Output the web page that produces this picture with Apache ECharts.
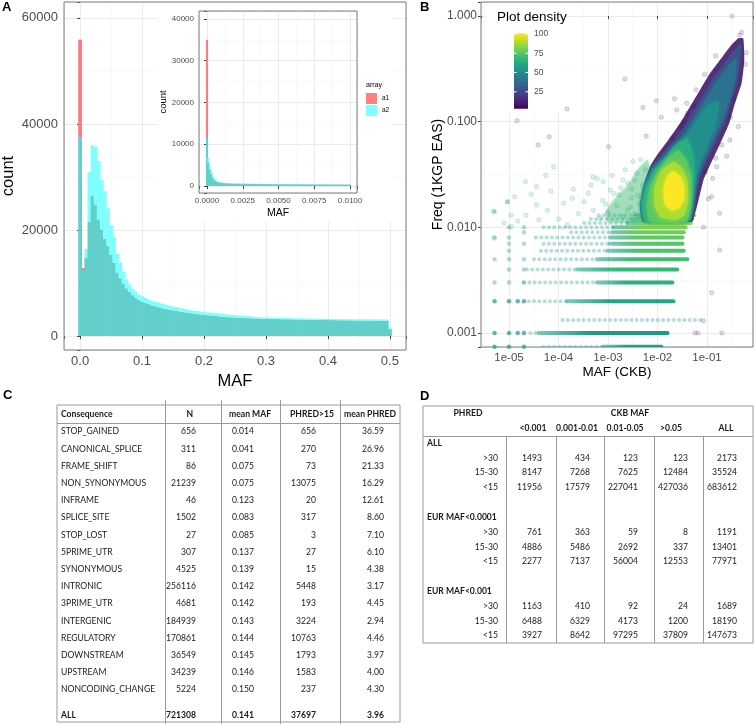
<!DOCTYPE html>
<html>
<head>
<meta charset="utf-8">
<script src="https://cdn.jsdelivr.net/npm/echarts@6/dist/echarts.min.js"></script>
<style>
html,body{margin:0;padding:0;background:#fff;}
#chart{width:756px;height:724px;}
</style>
</head>
<body>
<div id="chart"></div>
<script>
// ================= Panel A : MAF histograms =================
const mainBinWidth = 0.005;            // bins centred on 0, 0.005, ... 0.5
const mainA1 = [
 55900,12800,14700,21500,26500,24800,22000,20100,18300,17000,
 15300,13800,12000,10900,9900,9000,8300,7700,7200,6800,
 6500,6250,6050,5800,5650,5500,5330,5200,5080,4950,
 4850,4760,4650,4560,4450,4380,4290,4200,4130,4060,
 3960,3920,3860,3810,3760,3700,3660,3610,3560,3520,
 3490,3450,3430,3400,3370,3350,3330,3300,3290,3260,
 3240,3230,3200,3190,3180,3170,3160,3150,3140,3130,
 3120,3100,3090,3080,3070,3060,3050,3040,3030,3020,
 3010,3000,2990,2980,2970,2960,2950,2950,2940,2930,
 2920,2910,2900,2900,2890,2880,2870,2860,2850,2850,
 1300];
const mainA2 = [
 37400,12450,16400,30900,36000,35700,33000,29400,27300,24100,
 20900,18700,15500,13800,12100,10700,9700,8900,8300,7800,
 7500,7200,6950,6700,6500,6350,6150,6000,5850,5700,
 5550,5450,5350,5200,5100,4950,4850,4750,4700,4600,
 4550,4450,4400,4350,4300,4250,4200,4100,4050,4000,
 3950,3900,3850,3800,3750,3700,3650,3600,3550,3520,
 3500,3480,3450,3430,3420,3400,3380,3360,3350,3340,
 3330,3320,3310,3300,3290,3280,3270,3260,3250,3240,
 3230,3220,3210,3200,3190,3180,3170,3170,3160,3150,
 3150,3140,3140,3130,3130,3120,3120,3110,3110,3100,
 1500];
const insetBinWidth = 0.0001;          // bins centred on 0, 0.0001, ... 0.01
const insetA1 = [
 35000,5600,3900,2900,2050,1550,1220,1030,900,820,
 760,720,690,665,650,630,605,590,580,560,
 555,545,525,535,520,510,515,500,490,495,
 485,480,475,485,465,460,455,465,450,450,
 445,450,440,435,445,430,425,420,435,420,
 420,415,420,410,415,405,400,410,395,400,
 390,395,385,390,385,385,380,380,375,380,
 370,375,365,370,360,365,355,370,350,360,
 350,355,350,350,345,350,340,350,335,345,
 340,335,345,330,340,325,335,330,325,335,
 320];
const insetA2 = [
 11500,6700,4650,3450,2450,1850,1450,1220,1060,960,
 890,820,790,760,740,720,690,670,660,640,
 630,620,600,610,590,580,585,570,560,565,
 550,545,540,550,530,525,520,530,515,510,
 505,510,500,495,505,490,485,480,495,480,
 475,470,480,465,470,460,455,465,450,455,
 445,450,440,445,435,440,430,435,425,430,
 420,425,415,420,410,415,405,420,400,410,
 400,405,395,400,390,400,385,395,380,390,
 385,380,390,375,385,370,380,375,370,380,
 365];
const mainXTicks = [0, 0.1, 0.2, 0.3, 0.4, 0.5];
const mainYTicks = [0, 20000, 40000, 60000];
const insetXTicks = [0, 0.0025, 0.005, 0.0075, 0.01];
const insetYTicks = [0, 10000, 20000, 30000, 40000];
const seriesNames = ['a1', 'a2'];

// ================= Panel B : MAF (CKB) vs Freq (1KGP EAS) =================
const bXTicks = [1e-5, 1e-4, 1e-3, 1e-2, 1e-1];
const bXTickLabels = ['1e-05', '1e-04', '1e-03', '1e-02', '1e-01'];
const bYTicks = [0.001, 0.01, 0.1, 1];
const bYTickLabels = ['0.001', '0.010', '0.100', '1.000'];
// horizontal bands of points at discrete 1KGP frequencies
const bStripeFreq       = [0.00074, 0.001, 0.00133, 0.002, 0.003, 0.004, 0.005, 0.006, 0.007, 0.008, 0.009, 0.010, 0.011, 0.012, 0.013];
const bStripeSparseFrom = [5e-5, 2.7e-5, 1.2e-4, 2.5e-5, 2.0e-5, 2.3e-5, 3.2e-5, 4.4e-5, 5.0e-5, 3.5e-5, 1.8e-4, 5.0e-5, 3.3e-4, 4.5e-4, 6.5e-4];
const bStripeDenseFrom  = [8e-4, 4e-5, 0.08, 1.5e-4, 6e-4, 2.4e-4, 6e-4, 9.8e-4, 1.1e-3, 1.1e-3, 1.2e-3, 1.3e-3, 2.5e-3, 3e-3, 3.5e-3];
const bStripeTo         = [0.012, 0.016, 0.08, 0.021, 0.020, 0.025, 0.040, 0.034, 0.032, 0.032, 0.034, 0.037, 0.047, 0.050, 0.055];
const bLowMafDots = [
 [5.1e-6,0.00074],[1e-5,0.00074],[2e-5,0.00074],
 [5.1e-6,0.001],[1e-5,0.001],[1.5e-5,0.001],[2e-5,0.001],
 [5.1e-6,0.002],[1e-5,0.002],[1.5e-5,0.002],[2e-5,0.002],
 [5.1e-6,0.003],[1e-5,0.003],[2e-5,0.003],
 [1e-5,0.004],[2e-5,0.004],
 [5.1e-6,0.005],[1e-5,0.005],[2e-5,0.005],
 [1e-5,0.006],[1e-5,0.007],[2e-5,0.007],
 [5.1e-6,0.008],[1e-5,0.008],[2e-5,0.009],[1e-5,0.010],[2e-5,0.010],
 [5.1e-6,0.0141],[9.3e-6,0.0175]
];
const bTealSparse = [
 [4.8e-6,0.0141],[5e-6,0.0079],[9.3e-6,0.0175],[2.15e-5,0.027],[3.6e-5,0.0243],[8e-5,0.0375],[5.5e-5,0.031],
 [3.6e-5,0.0163],[1.26e-4,0.0169],[1.9e-4,0.0188],[3.3e-4,0.0175],[4.5e-4,0.0251],[7.8e-4,0.018],[1.1e-3,0.0226],
 [1.65e-3,0.0203],[1.8e-3,0.0236],[3.8e-3,0.0324],[4.6e-3,0.0435],[5.7e-3,0.035],[1.1e-5,0.013],[2.2e-5,0.013],
 [1.1e-5,0.0102],[6e-5,0.0145],[1e-4,0.012],[2.5e-4,0.0135],[5e-4,0.0145],[1.5e-3,0.016],[2.5e-3,0.026],[3e-3,0.019],
 [1.3e-5,0.0195],[2.8e-5,0.0205],[7e-5,0.022],[2e-4,0.023],[6e-4,0.029],[1.2e-3,0.031],[2.2e-3,0.035],[3.2e-3,0.042],
 [8e-6,0.011],[1.5e-5,0.0115],[4e-5,0.0118],[1.5e-4,0.0105],[3.5e-3,0.0135],[2e-3,0.0125],[7e-4,0.0122],
 [4e-4,0.021],[9e-4,0.0165],[2.8e-3,0.0155],
 [5e-4,0.030],[8e-4,0.027],[1.3e-3,0.021],[2e-3,0.028],[3e-3,0.023],[4e-3,0.020],[1e-3,0.014],[2.5e-3,0.0145],
 [4.5e-3,0.0165],[3.5e-3,0.028],[5e-3,0.025]
];
const bPurpleSparse = [
 [0.32,1.0],[1.45e-5,0.102],[1.48e-4,0.132],[2.2e-3,0.254],[5.1e-3,0.136],[9.5e-3,0.158],[0.022,0.165],
 [1.03e-3,0.058],[3.9e-5,0.060],[6.5e-5,0.072],[5.9e-3,0.073],[0.085,0.0013],[0.057,0.001],[0.066,0.001],
 [0.2,0.001],[0.124,0.0024],[0.124,0.0195],[0.18,0.0061],[0.085,0.010],[0.107,0.0186],[0.18,0.0136],
 [0.092,0.0336],[0.13,0.029],[0.04,0.12],[0.055,0.14],[0.15,0.045],[0.2,0.06],[0.46,0.66],[0.5,0.7],
 [0.012,0.11],[0.03,0.09],[0.02,0.07],
 [0.0245,0.129],[0.039,0.149],[0.29,0.067],[0.43,0.09],[0.25,0.047],[0.157,0.0375],[0.6,0.35],[0.62,0.45],
 [0.35,0.16],[0.3,0.11],[0.06,0.2],[0.035,0.1],[0.09,0.28],[0.15,0.42]
];
// density contours of the dense cloud, in log10(MAF), log10(Freq) units (outer -> inner)
const bCloudLog10 = [
 [[-2.30,-1.95],[-3.00,-1.95],[-3.05,-1.85],[-2.85,-1.72],[-2.60,-1.60],[-2.40,-1.45],[-2.20,-1.36],[-2.15,-1.45],[-2.28,-1.62],[-2.35,-1.80]],
 [[-0.267,-0.211],[-0.246,-0.416],[-0.300,-0.637],[-0.434,-0.826],[-0.55,-1.015],[-0.73,-1.204],[-0.92,-1.394],[-1.07,-1.552],
  [-1.17,-1.741],[-1.24,-1.867],[-1.30,-1.946],[-2.287,-1.946],[-2.354,-1.804],[-2.287,-1.615],[-2.152,-1.426],[-1.984,-1.300],
  [-1.782,-1.173],[-1.545,-1.015],[-1.343,-0.858],[-1.141,-0.700],[-0.939,-0.542],[-0.737,-0.416],[-0.535,-0.290],[-0.368,-0.211]],
 [[-0.30,-0.27],[-0.326,-0.42],[-0.38,-0.61],[-0.50,-0.80],[-0.62,-0.99],[-0.81,-1.18],[-1.00,-1.37],[-1.14,-1.53],[-1.23,-1.72],
  [-1.28,-1.85],[-1.33,-1.94],[-2.28,-1.94],[-2.35,-1.80],[-2.28,-1.615],[-2.14,-1.43],[-1.94,-1.325],[-1.72,-1.205],[-1.475,-1.05],
  [-1.27,-0.89],[-1.065,-0.735],[-0.86,-0.58],[-0.66,-0.455],[-0.46,-0.33],[-0.34,-0.27]],
 [[-0.40,-0.40],[-0.43,-0.60],[-0.55,-0.80],[-0.69,-0.99],[-0.87,-1.17],[-1.05,-1.35],[-1.19,-1.52],[-1.26,-1.70],[-1.30,-1.84],
  [-1.35,-1.935],[-2.27,-1.935],[-2.34,-1.80],[-2.27,-1.62],[-2.12,-1.445],[-1.90,-1.35],[-1.66,-1.235],[-1.42,-1.09],[-1.21,-0.93],
  [-1.00,-0.77],[-0.79,-0.61],[-0.60,-0.49],[-0.46,-0.42]],
 [[-0.76,-0.80],[-0.80,-0.99],[-0.94,-1.17],[-1.10,-1.34],[-1.22,-1.51],[-1.29,-1.69],[-1.32,-1.83],[-1.37,-1.93],[-2.26,-1.93],
  [-2.33,-1.80],[-2.26,-1.625],[-2.09,-1.46],[-1.86,-1.37],[-1.62,-1.26],[-1.39,-1.12],[-1.17,-0.96],[-0.97,-0.84]],
 [[-1.40,-1.16],[-1.28,-1.32],[-1.25,-1.47],[-1.27,-1.64],[-1.30,-1.79],[-1.34,-1.90],[-1.40,-1.95],[-2.25,-1.95],[-2.32,-1.80],
  [-2.25,-1.63],[-2.08,-1.47],[-1.86,-1.35],[-1.64,-1.22]],
 [[-1.58,-1.27],[-1.42,-1.36],[-1.32,-1.50],[-1.31,-1.68],[-1.34,-1.84],[-1.42,-1.95],[-2.15,-1.95],[-2.22,-1.80],[-2.16,-1.62],
  [-2.00,-1.47],[-1.80,-1.35]],
 [[-1.68,-1.38],[-1.50,-1.44],[-1.39,-1.57],[-1.38,-1.74],[-1.45,-1.88],[-1.62,-1.93],[-1.92,-1.91],[-2.06,-1.80],[-2.06,-1.62],[-1.93,-1.47]],
 [[-1.69,-1.47],[-1.54,-1.52],[-1.46,-1.62],[-1.47,-1.74],[-1.57,-1.82],[-1.72,-1.84],[-1.85,-1.78],[-1.88,-1.65],[-1.82,-1.53]]
];
const bDensityRange = [3, 101];
const bDensityTicks = [25, 50, 75, 100];

// ================= Table C =================
const cHeader = ['Consequence', 'N', 'mean MAF', 'PHRED>15', 'mean PHRED'];
const cConsequence = ['STOP_GAINED','CANONICAL_SPLICE','FRAME_SHIFT','NON_SYNONYMOUS','INFRAME','SPLICE_SITE','STOP_LOST','5PRIME_UTR','SYNONYMOUS','INTRONIC','3PRIME_UTR','INTERGENIC','REGULATORY','DOWNSTREAM','UPSTREAM','NONCODING_CHANGE'];
const cN         = [656,311,86,21239,46,1502,27,307,4525,256116,4681,184939,170861,36549,34239,5224];
const cMeanMaf   = [0.014,0.041,0.075,0.075,0.123,0.083,0.085,0.137,0.139,0.142,0.142,0.143,0.144,0.145,0.146,0.150];
const cPhred15   = [656,270,73,13075,20,317,3,27,15,5448,193,3224,10763,1793,1583,237];
const cMeanPhred = [36.59,26.96,21.33,16.29,12.61,8.60,7.10,6.10,4.38,3.17,4.45,2.94,4.46,3.97,4.00,4.30];
const cAll = {label: 'ALL', n: 721308, meanMaf: 0.141, phred15: 37697, meanPhred: 3.96};

// ================= Table D =================
const dPhredTitle = 'PHRED';
const dMafTitle = 'CKB MAF';
const dMafBins = ['<0.001', '0.001-0.01', '0.01-0.05', '>0.05', 'ALL'];
const dGroups = ['ALL', 'EUR MAF<0.0001', 'EUR MAF<0.001'];
const dPhredBands = ['>30', '15-30', '<15'];
const dCounts = [
 [[1493,434,123,123,2173],[8147,7268,7625,12484,35524],[11956,17579,227041,427036,683612]],
 [[761,363,59,8,1191],[4886,5486,2692,337,13401],[2277,7137,56004,12553,77971]],
 [[1163,410,92,24,1689],[6488,6329,4173,1200,18190],[3927,8642,97295,37809,147673]]
];

// ================= styles / layout =================
const FONT = 'Liberation Sans, Arial, Helvetica, sans-serif';
const TFONT = 'Lato, Carlito, Open Sans, sans-serif';
const TSIZE = 8.6;
const COL_A1 = '#FF7B7B', COL_A2 = '#80FFFF', COL_OVERLAP = '#62CFCB';
const LEG_A1 = '#FF8080', LEG_A2 = '#80FFFF';
const INSET_X_UNIT = 0.0025;
const VIRIDIS = ['#440154','#482475','#414487','#355F8D','#2A788E','#21918C','#22A884','#44BF70','#7AD151','#BDDF26','#FDE725'];
const bCloudColors = ['#3DBC74','#46206F','#3B528B','#2C728E','#21908C','#28AE80','#5DC863','#AADC32','#FDE725'];
const bCloudOpacity = [0.28,0.92,1,1,1,1,1,1,1];
const bCloudBlur = [3,0,0,3,4,4,4,4,4];
const bStripeColors = ['#2A9A87','#1F9A8A','#9ED8C8','#25A584','#2DB07E','#35B779','#40BD72','#4AC16D','#55C568','#5DC863','#6ECE58','#7AD151','#8FD744','#A0DA39','#B0DD2F'];
const GRID_MAJOR = '#EBEBEB', GRID_MINOR = '#F5F5F5', BORDER = '#7F7F7F', TICK = '#444', TICKLAB = '#4D4D4D';
const TABLE_LINE = '#9A9A9A', TABLE_TEXT = '#1A1A1A';

function near(a, b) { return Math.abs(a - b) < 1e-9; }
// label only the listed tick values (the axis extents get an empty label)
function tickLabeller(ticks, labels, toAxis) {
  return v => {
    const k = ticks.findIndex(t => near(toAxis(t), v));
    return k >= 0 ? labels[k] : '';
  };
}

function ggAxis(extra) {
  const base = {
    type: 'value',
    axisLine: {show: false},
    axisTick: {show: true, length: 3, lineStyle: {color: TICK, width: 1}},
    axisLabel: {color: TICKLAB, fontSize: 13, margin: 6, fontFamily: FONT},
    splitLine: {show: true, lineStyle: {color: GRID_MAJOR, width: 1}},
    minorTick: {show: false, splitNumber: 2},
    minorSplitLine: {show: true, lineStyle: {color: GRID_MINOR, width: 0.6}},
    nameLocation: 'middle',
    nameMoveOverlap: false,
    nameTextStyle: {color: '#000', fontFamily: FONT}
  };
  for (const k in extra) {
    if (base[k] && typeof base[k] === 'object' && !Array.isArray(base[k]) && typeof extra[k] === 'object') {
      base[k] = Object.assign({}, base[k], extra[k]);
    } else base[k] = extra[k];
  }
  return base;
}

// histogram renderer: overlap (teal) + excess of each array
function histRender(a1, a2, binW, unit, role) {
  return function (params, api) {
    const i = params.dataIndex;
    const c = i * binW / unit, hw = binW / unit / 2;
    const v1 = a1[i], v2 = a2[i];
    const kids = [];
    function rect(y0, y1, fill) {
      const p0 = api.coord([c - hw, y0]);
      const p1 = api.coord([c + hw, y1]);
      kids.push({type: 'rect', shape: {x: p0[0] - 0.35, y: p1[1], width: (p1[0] - p0[0]) + 0.7, height: p0[1] - p1[1]}, style: {fill: fill}});
    }
    if (role === 'a2') {
      rect(0, Math.min(v1, v2), COL_OVERLAP);
      if (v2 > v1) rect(v1, v2, COL_A2);
    } else if (v1 > v2) {
      rect(v2, v1, COL_A1);
    }
    return {type: 'group', children: kids};
  };
}

// ---------- tables ----------
const cLayout = {left: 57, top: 405, width: 343, height: 317, colLines: [108, 164, 223, 283], allGap: 1.5};
const cRowCount = 1 + cConsequence.length + 1;
const cRowPos = i => (i <= cConsequence.length ? i : cConsequence.length + cLayout.allGap);
const dLayout = {left: 423, top: 406, width: 330, height: 237, colLines: [83, 133, 181, 231, 280]};
const dRowCount = 2 + dGroups.length * 4 + (dGroups.length - 1); // 16

function crisp(v) { return Math.round(v) + 0.5; }
function tText(kids, s, x, y, align, bold) {
  kids.push({type: 'text', style: {text: String(s), x: x, y: y, align: align, verticalAlign: 'middle',
    fontSize: TSIZE, fontFamily: TFONT, fontWeight: bold ? 'bold' : 'normal', fill: TABLE_TEXT}});
}

function tableCRender(params, api) {
  const i = params.dataIndex;
  const pos = cRowPos(i);
  const y = api.coord([0, pos])[1];
  const X = v => api.coord([v, pos])[0];
  const kids = [];
  const nRows = cConsequence.length;
  if (i === 0) {
    tText(kids, cHeader[0], X(4), y, 'left', true);
    tText(kids, cHeader[1], X(136), y, 'right', true);
    tText(kids, cHeader[2], X(193), y, 'center', true);
    tText(kids, cHeader[3], X(255), y, 'center', true);
    tText(kids, cHeader[4], X(313), y, 'center', true);
    const hl = api.coord([0, 0.5])[1];
    const top = api.coord([0, -0.55])[1] - 5, bottom = api.coord([0, 30])[1] + 5;
    kids.push({type: 'line', shape: {x1: X(0), y1: crisp(hl), x2: X(cLayout.width), y2: crisp(hl)}, style: {stroke: TABLE_LINE, lineWidth: 1}});
    cLayout.colLines.forEach(c => {
      kids.push({type: 'line', shape: {x1: crisp(X(c)), y1: top, x2: crisp(X(c)), y2: bottom}, style: {stroke: TABLE_LINE, lineWidth: 1}});
    });
  } else if (i <= nRows) {
    const r = i - 1;
    tText(kids, cConsequence[r], X(4), y, 'left', false);
    tText(kids, cN[r], X(139), y, 'right', false);
    tText(kids, cMeanMaf[r].toFixed(3), X(186), y, 'center', false);
    tText(kids, cPhred15[r], X(259), y, 'right', false);
    tText(kids, cMeanPhred[r].toFixed(2), X(327), y, 'right', false);
  } else {
    tText(kids, cAll.label, X(4), y, 'left', true);
    tText(kids, cAll.n, X(139), y, 'right', true);
    tText(kids, cAll.meanMaf.toFixed(3), X(186), y, 'center', true);
    tText(kids, cAll.phred15, X(259), y, 'right', true);
    tText(kids, cAll.meanPhred.toFixed(2), X(327), y, 'right', true);
  }
  return {type: 'group', children: kids};
}

const dValueRight = [119, 167, 215, 265, 314];
const dHeaderCentre = [110, 154, 202, 248, 303];
function tableDRender(params, api) {
  const i = params.dataIndex;
  const y = api.coord([0, i])[1];
  const X = v => api.coord([v, i])[0];
  const kids = [];
  if (i === 0) {
    tText(kids, dPhredTitle, X(45), y, 'center', true);
    tText(kids, dMafTitle, X(207), y, 'center', true);
  } else if (i === 1) {
    dMafBins.forEach((b, k) => tText(kids, b, X(dHeaderCentre[k]), y, 'center', true));
    const h = api.size([0, 1])[1];
    const hl = y + h / 2;
    const bottom = api.coord([0, dRowCount - 1])[1] + h / 2;
    kids.push({type: 'line', shape: {x1: X(0), y1: crisp(hl), x2: X(dLayout.width), y2: crisp(hl)}, style: {stroke: TABLE_LINE, lineWidth: 1}});
    dLayout.colLines.forEach(c => {
      kids.push({type: 'line', shape: {x1: crisp(X(c)), y1: crisp(hl), x2: crisp(X(c)), y2: bottom}, style: {stroke: TABLE_LINE, lineWidth: 1}});
    });
  } else {
    const r = i - 2;
    const g = Math.floor(r / 5), k = r % 5;
    if (g < dGroups.length) {
      if (k === 0) tText(kids, dGroups[g], X(4), y, 'left', true);
      else if (k <= 3) {
        tText(kids, dPhredBands[k - 1], X(75), y, 'right', false);
        dCounts[g][k - 1].forEach((v, c) => tText(kids, v, X(dValueRight[c]), y, 'right', false));
      }
    }
  }
  return {type: 'group', children: kids};
}

// ---------- panel B renderers ----------
function stripeRender(params, api) {
  const i = params.dataIndex;
  const y = Math.log10(bStripeFreq[i]);
  const xs = Math.log10(bStripeSparseFrom[i]), xd = Math.log10(bStripeDenseFrom[i]), xe = Math.log10(bStripeTo[i]);
  const p0 = api.coord([xs, y]), p1 = api.coord([Math.min(xd, xe), y]), p2 = api.coord([xe, y]);
  const kids = [{type: 'line', shape: {x1: p0[0], y1: p0[1], x2: p1[0], y2: p1[1]},
    style: {stroke: 'rgba(31,158,137,0.33)', lineWidth: 4, lineCap: 'round', lineDash: [0.1, 5.2]}}];
  if (xd < xe) {
    kids.push({type: 'line', shape: {x1: p1[0], y1: p1[1], x2: p2[0], y2: p2[1]},
      style: {stroke: new echarts.graphic.LinearGradient(0, 0, 1, 0, [
        {offset: 0, color: 'rgba(31,158,137,0.55)'}, {offset: 0.4, color: bStripeColors[i]}, {offset: 1, color: bStripeColors[i]}]),
        lineWidth: 4, lineCap: 'round'}});
  }
  return {type: 'group', children: kids};
}
function cloudRender(params, api) {
  const i = params.dataIndex;
  return {type: 'polygon', shape: {points: bCloudLog10[i].map(p => api.coord(p)), smooth: 0.15},
    style: {fill: bCloudColors[i], opacity: bCloudOpacity[i], shadowBlur: bCloudBlur[i], shadowColor: bCloudColors[i]}};
}
function colorbarRender(params, api) {
  const p0 = api.coord([0, bDensityRange[0]]), p1 = api.coord([1, bDensityRange[1]]);
  const stops = VIRIDIS.slice().reverse().map((c, k) => ({offset: k / (VIRIDIS.length - 1), color: c}));
  const kids = [{type: 'rect', shape: {x: p0[0], y: p1[1], width: p1[0] - p0[0], height: p0[1] - p1[1]},
    style: {fill: new echarts.graphic.LinearGradient(0, 0, 0, 1, stops)}}];
  bDensityTicks.forEach(t => {
    const q = api.coord([0, t]), r = api.coord([1, t]);
    kids.push({type: 'line', shape: {x1: q[0], y1: q[1], x2: q[0] + 2.5, y2: q[1]}, style: {stroke: '#fff', lineWidth: 1}});
    kids.push({type: 'line', shape: {x1: r[0] - 2.5, y1: r[1], x2: r[0], y2: r[1]}, style: {stroke: '#fff', lineWidth: 1}});
  });
  return {type: 'group', children: kids};
}

const log10Pairs = arr => arr.map(([m, f]) => [Math.log10(m), Math.log10(f)]);
const ident = v => v;

const option = {
  animation: false,
  backgroundColor: '#ffffff',
  textStyle: {fontFamily: FONT},
  title: [
    {text: 'A', left: 2, top: 1, padding: 0, textStyle: {fontSize: 13, fontWeight: 'bold', color: '#000', fontFamily: FONT}},
    {text: 'B', left: 420, top: 1, padding: 0, textStyle: {fontSize: 13, fontWeight: 'bold', color: '#000', fontFamily: FONT}},
    {text: 'C', left: 3, top: 389, padding: 0, textStyle: {fontSize: 13, fontWeight: 'bold', color: '#000', fontFamily: FONT}},
    {text: 'D', left: 420, top: 390, padding: 0, textStyle: {fontSize: 13, fontWeight: 'bold', color: '#000', fontFamily: FONT}},
    {text: 'array', left: 366, top: 82, padding: 0, z: 8, textStyle: {fontSize: 7, fontWeight: 'normal', color: '#000', fontFamily: FONT}},
    {text: 'Plot density', left: 497, top: 10, padding: 0, z: 8, textStyle: {fontSize: 13.5, fontWeight: 'normal', color: '#000', fontFamily: FONT}}
  ],
  legend: {
    data: seriesNames, left: 366, top: 93, orient: 'vertical', itemWidth: 11, itemHeight: 11, itemGap: 1,
    icon: 'rect', selectedMode: false, padding: 0, z: 8,
    textStyle: {fontSize: 6.5, color: '#000', fontFamily: FONT}
  },
  graphic: [
    {type: 'rect', z: 5, silent: true, shape: {x: 157, y: 3, width: 235, height: 219}, style: {fill: '#fff'}},
    {type: 'rect', z: 5, silent: true, shape: {x: 487, y: 3, width: 77, height: 110}, style: {fill: '#fff'}}
  ],
  grid: [
    {left: 64, top: 2, width: 342, height: 348, show: true, borderColor: BORDER, borderWidth: 1, z: 1, containLabel: false, outerBoundsMode: 'none'},
    {left: 199, top: 11, width: 158, height: 182, show: true, borderColor: BORDER, borderWidth: 1, backgroundColor: 'rgba(0,0,0,0)', z: 7, containLabel: false, outerBoundsMode: 'none'},
    {left: 481, top: 2, width: 272, height: 345, show: true, borderColor: BORDER, borderWidth: 1, z: 1, containLabel: false, outerBoundsMode: 'none'},
    {left: 514, top: 33, width: 14, height: 78, show: false, z: 7, containLabel: false, outerBoundsMode: 'none'},
    {left: cLayout.left, top: cLayout.top, width: cLayout.width, height: cLayout.height, show: true, borderColor: TABLE_LINE, borderWidth: 1, z: 1, containLabel: false, outerBoundsMode: 'none'},
    {left: dLayout.left, top: dLayout.top, width: dLayout.width, height: dLayout.height, show: true, borderColor: TABLE_LINE, borderWidth: 1, z: 1, containLabel: false, outerBoundsMode: 'none'}
  ],
  xAxis: [
    ggAxis({gridIndex: 0, min: -0.026, max: 0.526, splitNumber: 5, name: 'MAF', nameGap: 23,
      nameTextStyle: {fontSize: 16.5, color: '#000', fontFamily: FONT},
      axisLabel: {margin: 5, formatter: tickLabeller(mainXTicks, mainXTicks.map(v => v.toFixed(1)), ident)}}),
    ggAxis({gridIndex: 1, z: 6, min: -0.00056 / INSET_X_UNIT, max: 0.01049 / INSET_X_UNIT, splitNumber: 4, name: 'MAF', nameGap: 15,
      nameTextStyle: {fontSize: 10.5, color: '#000', fontFamily: FONT},
      axisLabel: {fontSize: 8, margin: 4, formatter: tickLabeller(insetXTicks, insetXTicks.map(v => v.toFixed(4)), v => v / INSET_X_UNIT)}}),
    ggAxis({gridIndex: 2, min: -5.566, max: -0.07, splitNumber: 5, name: 'MAF (CKB)', nameGap: 18,
      nameTextStyle: {fontSize: 13.5, color: '#000', fontFamily: FONT},
      axisLabel: {fontSize: 11.5, margin: 5, formatter: tickLabeller(bXTicks, bXTickLabels, Math.log10)}}),
    {gridIndex: 3, type: 'value', min: 0, max: 1, show: false},
    {gridIndex: 4, type: 'value', min: 0, max: cLayout.width, show: false},
    {gridIndex: 5, type: 'value', min: 0, max: dLayout.width, show: false}
  ],
  yAxis: [
    ggAxis({gridIndex: 0, min: -2640, max: 63000, splitNumber: 3, name: 'count', nameGap: 47,
      nameTextStyle: {fontSize: 16.5, color: '#000', fontFamily: FONT},
      axisLabel: {margin: 6, formatter: tickLabeller(mainYTicks, mainYTicks.map(String), ident)}}),
    ggAxis({gridIndex: 1, z: 6, min: -1680, max: 41900, splitNumber: 4, name: 'count', nameGap: 31,
      nameTextStyle: {fontSize: 9.5, color: '#000', fontFamily: FONT},
      axisLabel: {fontSize: 8, margin: 5, formatter: tickLabeller(insetYTicks, insetYTicks.map(String), ident)}}),
    ggAxis({gridIndex: 2, min: -3.1325, max: 0.1325, splitNumber: 3, name: 'Freq (1KGP EAS)', nameGap: 36,
      nameTextStyle: {fontSize: 14, color: '#000', fontFamily: FONT},
      axisLabel: {fontSize: 12, margin: 4, formatter: tickLabeller(bYTicks, bYTickLabels, Math.log10)}}),
    {gridIndex: 3, type: 'value', min: 0, max: 101.3, interval: 25, position: 'right', z: 7,
      axisLine: {show: false}, axisTick: {show: false}, splitLine: {show: false},
      axisLabel: {fontSize: 8.5, color: TICKLAB, margin: 6, fontFamily: FONT,
        formatter: tickLabeller(bDensityTicks, bDensityTicks.map(String), ident)}},
    {gridIndex: 4, type: 'value', inverse: true, min: -0.55, max: 17.88, show: false},
    {gridIndex: 5, type: 'category', inverse: true, show: false, data: Array.from({length: dRowCount}, (_, i) => 'r' + i)}
  ],
  series: [
    {name: 'a2', type: 'custom', xAxisIndex: 0, yAxisIndex: 0, silent: true, itemStyle: {color: LEG_A2},
      data: mainA2.map((v, i) => [i * mainBinWidth, v]), renderItem: histRender(mainA1, mainA2, mainBinWidth, 1, 'a2')},
    {name: 'a1', type: 'custom', xAxisIndex: 0, yAxisIndex: 0, silent: true, itemStyle: {color: LEG_A1},
      data: mainA1.map((v, i) => [i * mainBinWidth, v]), renderItem: histRender(mainA1, mainA2, mainBinWidth, 1, 'a1')},
    {name: 'a2', type: 'custom', xAxisIndex: 1, yAxisIndex: 1, silent: true, z: 8, itemStyle: {color: LEG_A2},
      data: insetA2.map((v, i) => [i * insetBinWidth / INSET_X_UNIT, v]), renderItem: histRender(insetA1, insetA2, insetBinWidth, INSET_X_UNIT, 'a2')},
    {name: 'a1', type: 'custom', xAxisIndex: 1, yAxisIndex: 1, silent: true, z: 8, itemStyle: {color: LEG_A1},
      data: insetA1.map((v, i) => [i * insetBinWidth / INSET_X_UNIT, v]), renderItem: histRender(insetA1, insetA2, insetBinWidth, INSET_X_UNIT, 'a1')},
    {type: 'custom', xAxisIndex: 2, yAxisIndex: 2, silent: true, clip: true,
      data: bStripeFreq.map((f, i) => [Math.log10(bStripeTo[i]), Math.log10(f)]), renderItem: stripeRender},
    {type: 'scatter', xAxisIndex: 2, yAxisIndex: 2, silent: true, clip: true, symbolSize: 4.5,
      data: log10Pairs(bLowMafDots),
      itemStyle: {color: p => (p.value[1] <= Math.log10(0.0021) ? 'rgba(31,158,137,0.9)' : 'rgba(31,158,137,0.45)')}},
    {type: 'scatter', xAxisIndex: 2, yAxisIndex: 2, silent: true, clip: true, symbolSize: 4.5,
      data: log10Pairs(bTealSparse), itemStyle: {color: 'rgba(53,183,121,0.22)', borderColor: 'rgba(33,145,140,0.35)', borderWidth: 0.6}},
    {type: 'custom', xAxisIndex: 2, yAxisIndex: 2, silent: true, clip: true,
      data: bCloudLog10.map(p => p[0]), renderItem: cloudRender},
    {type: 'scatter', xAxisIndex: 2, yAxisIndex: 2, silent: true, clip: true, symbolSize: 4.5,
      data: log10Pairs(bPurpleSparse), itemStyle: {color: 'rgba(68,1,84,0.18)', borderColor: 'rgba(68,1,84,0.3)', borderWidth: 0.6}},
    {type: 'custom', xAxisIndex: 3, yAxisIndex: 3, silent: true, z: 8, data: [[0.5, bDensityRange[1]]], renderItem: colorbarRender},
    {type: 'custom', xAxisIndex: 4, yAxisIndex: 4, silent: true,
      data: Array.from({length: cRowCount}, (_, i) => [0, cRowPos(i)]), renderItem: tableCRender},
    {type: 'custom', xAxisIndex: 5, yAxisIndex: 5, silent: true,
      data: Array.from({length: dRowCount}, (_, i) => [0, i]), renderItem: tableDRender}
  ]
};

const chart = echarts.init(document.getElementById('chart'), null, {renderer: 'canvas', width: 756, height: 724});
chart.setOption(option);
</script>
</body>
</html>
